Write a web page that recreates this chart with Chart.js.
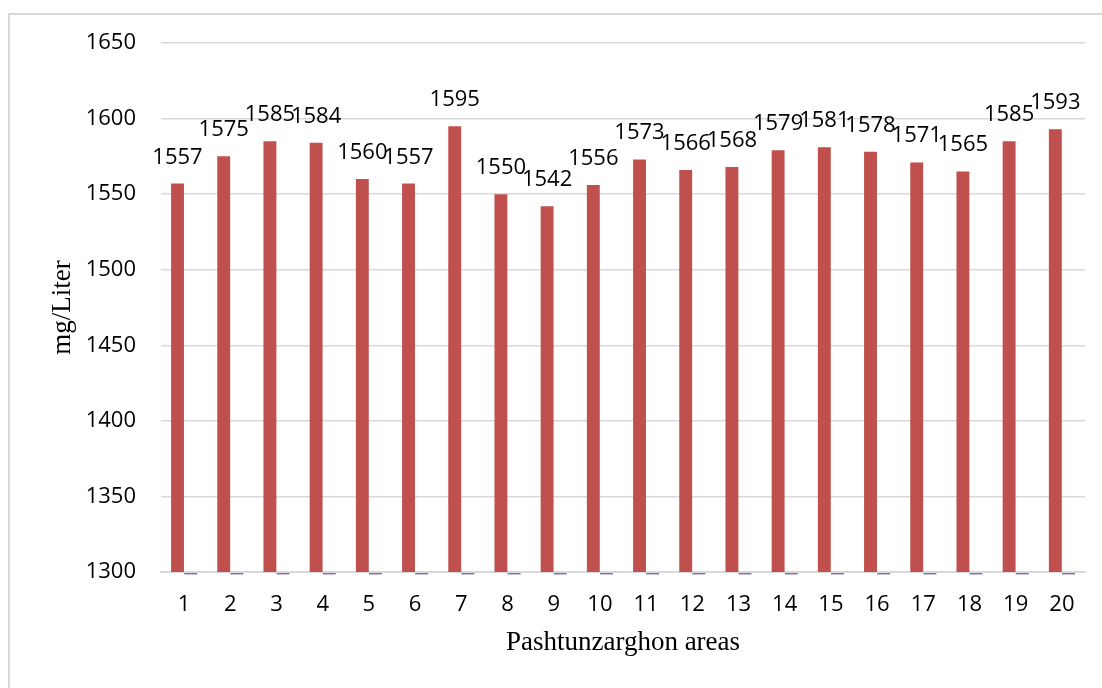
<!DOCTYPE html>
<html>
<head>
<meta charset="utf-8">
<script src="https://cdn.jsdelivr.net/npm/chart.js@4/dist/chart.umd.min.js"></script>
<style>
  html, body { margin: 0; padding: 0; background: #fff; overflow: hidden; }
  #wrap { position: relative; width: 1102px; height: 688px; }
  #frame {
    position: absolute; left: 8px; top: 13px; width: 1200px; height: 800px;
    border: 2px solid #d9d9d9; box-sizing: border-box;
  }
  #chart { position: absolute; left: 0; top: 0; }
</style>
</head>
<body>
<div id="wrap">
  <div id="frame"></div>
  <canvas id="chart" width="1102" height="688"></canvas>
</div>
<script>
const areas = ['1', '2', '3', '4', '5', '6', '7', '8', '9', '10',
  '11', '12', '13', '14', '15', '16', '17', '18', '19', '20'];
const concentration = [1557, 1575, 1585, 1584, 1560, 1557, 1595, 1550, 1542, 1556,
  1573, 1566, 1568, 1579, 1581, 1578, 1571, 1565, 1585, 1593];
// second series sits just under the axis minimum
const secondSeries = [
  [1298.4, 1299.3], [1298.4, 1299.3], [1298.4, 1299.3], [1298.4, 1299.3], [1298.4, 1299.3],
  [1298.4, 1299.3], [1298.4, 1299.3], [1298.4, 1299.3], [1298.4, 1299.3], [1298.4, 1299.3],
  [1298.4, 1299.3], [1298.4, 1299.3], [1298.4, 1299.3], [1298.4, 1299.3], [1298.4, 1299.3],
  [1298.4, 1299.3], [1298.4, 1299.3], [1298.4, 1299.3], [1298.4, 1299.3], [1298.4, 1299.3],
];
const yTicks = [1300, 1350, 1400, 1450, 1500, 1550, 1600, 1650];

const labelFont = '22px "Open Sans"';

const valueLabels = {
  id: 'valueLabels',
  afterDatasetsDraw(chart) {
    const ctx = chart.ctx;
    const meta = chart.getDatasetMeta(0);
    ctx.save();
    ctx.font = labelFont;
    ctx.fillStyle = '#000';
    ctx.textAlign = 'center';
    ctx.textBaseline = 'alphabetic';
    meta.data.forEach((bar, i) => {
      ctx.fillText(String(concentration[i]), bar.x, bar.y - 20);
    });
    ctx.restore();
  },
};

new Chart(document.getElementById('chart'), {
  type: 'bar',
  data: {
    labels: areas,
    datasets: [
      {
        data: concentration,
        backgroundColor: '#c0504d',
        categoryPercentage: 0.57,
        barPercentage: 0.98,
      },
      {
        data: secondSeries,
        backgroundColor: '#8064a2',
        categoryPercentage: 0.57,
        barPercentage: 0.98,
        clip: false,
      },
    ],
  },
  options: {
    responsive: false,
    devicePixelRatio: 1,
    animation: false,
    layout: { padding: { left: 47, right: 17, top: 43, bottom: 29 } },
    plugins: {
      legend: { display: false },
      tooltip: { enabled: false },
    },
    scales: {
      x: {
        grid: { display: false, drawTicks: false },
        border: { display: true, color: '#d9d9d9', width: 2 },
        ticks: {
          color: '#000',
          font: { family: 'Open Sans', size: 22 },
          padding: 20,
          maxRotation: 0,
        },
        title: {
          display: true,
          text: 'Pashtunzarghon areas',
          color: '#000',
          font: { family: 'Liberation Serif', size: 27 },
          padding: 0,
        },
        afterFit(scale) { scale.height = 87; },
      },
      y: {
        min: 1300,
        max: 1650,
        grid: { color: '#d9d9d9', lineWidth: 1.5, drawTicks: false },
        border: { display: false },
        afterBuildTicks(scale) { scale.ticks = yTicks.map((v) => ({ value: v })); },
        ticks: {
          color: '#000',
          font: { family: 'Open Sans', size: 22 },
          padding: 25,
          callback: (value) => String(value),
        },
        title: {
          display: true,
          text: 'mg/Liter',
          color: '#000',
          font: { family: 'Liberation Serif', size: 27 },
          padding: 0,
        },
        afterFit(scale) { scale.width = 114; },
      },
    },
  },
  plugins: [valueLabels],
});
</script>
</body>
</html>
